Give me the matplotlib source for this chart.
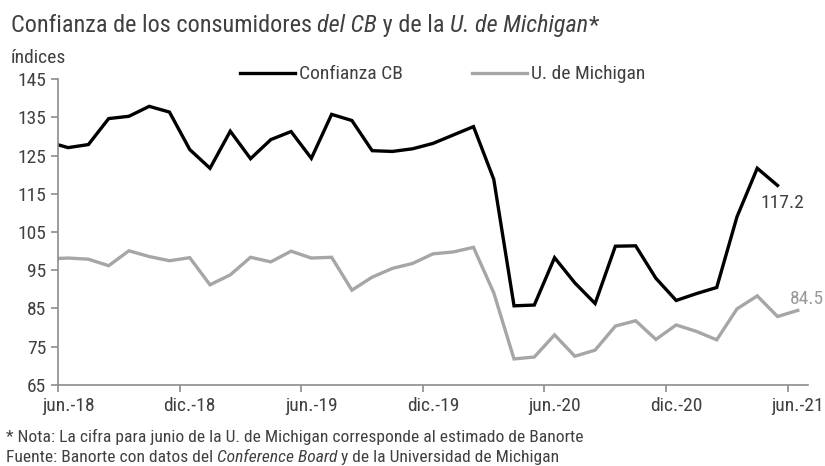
import numpy as np
import matplotlib
matplotlib.use('Agg')
import matplotlib.pyplot as plt
from matplotlib import font_manager as fm

# look for a narrow font, like the one of the original
names = {}
for f in fm.fontManager.ttflist:
    names.setdefault(f.name, set()).add(f.stretch)
pick = None
for n in ['Liberation Sans Narrow', 'Arial Narrow', 'Roboto Condensed', 'Noto Sans Condensed',
          'Open Sans Condensed', 'DejaVu Sans Condensed']:
    if n in names:
        pick = (n, 'normal')
        break
if pick is None:
    for n in ['Noto Sans', 'DejaVu Sans', 'Open Sans', 'Roboto']:
        st = [s for s in names.get(n, []) if s in ('condensed', 'semi-condensed', 'extra-condensed')]
        if st:
            pick = (n, st[0])
            break
if pick is None:
    pick = ('Liberation Sans', 'normal')
plt.rcParams['font.family'] = [pick[0], 'DejaVu Sans']
plt.rcParams['font.stretch'] = pick[1]

# monthly data, may-18 .. jun-21 (CB ends in may-21)
cb = [128.6, 127.1, 127.9, 134.7, 135.3, 137.9, 136.4, 126.6,
      121.7, 131.4, 124.2, 129.2, 131.3, 124.3, 135.8, 134.2, 126.3, 126.1, 126.8, 128.2,
      130.4, 132.6, 118.8, 85.7, 85.9, 98.3, 91.7, 86.3, 101.3, 101.4, 92.9, 87.1,
      88.9, 90.5, 109.0, 121.7, 117.2]
mich = [98.0, 98.2, 97.9, 96.2, 100.1, 98.6, 97.5, 98.3,
        91.2, 93.8, 98.4, 97.2, 100.0, 98.2, 98.4, 89.8, 93.2, 95.5, 96.8, 99.3,
        99.8, 101.0, 89.1, 71.8, 72.3, 78.1, 72.5, 74.1, 80.4, 81.8, 76.9, 80.7,
        79.0, 76.8, 84.9, 88.3, 82.9, 84.5]
tick_labels = ['jun.-18', 'dic.-18', 'jun.-19', 'dic.-19', 'jun.-20', 'dic.-20', 'jun.-21']

txt = '#404040'
grey = '#a6a6a6'
axc = '#8c8c8c'

fig = plt.figure(figsize=(8.25, 4.66), dpi=100)
ax = fig.add_axes([0.0703, 0.174, 0.909, 0.656])

# each month sits in the middle of its slot
x_cb = np.arange(len(cb)) - 1 + 0.5
x_mi = np.arange(len(mich)) - 1 + 0.5
ax.plot(x_cb, cb, color='black', lw=2.4, label='Confianza CB', solid_joinstyle='miter')
ax.plot(x_mi, mich, color=grey, lw=2.4, label='U. de Michigan', solid_joinstyle='miter')

ax.set_xlim(0, 37)
ax.set_ylim(65, 145)
ax.set_yticks(np.arange(65, 146, 10))
# tick marks on the slot borders, labels on the month
ax.set_xticks(np.arange(0, 37, 6))
ax.set_xticklabels([])
ax.set_xticks(np.arange(0, 37, 6) + 0.5, minor=True)
ax.set_xticklabels(tick_labels, minor=True)
for s in ['top', 'right']:
    ax.spines[s].set_visible(False)
for s in ['left', 'bottom']:
    ax.spines[s].set_color(axc)
    ax.spines[s].set_linewidth(1.2)
ax.tick_params(colors=axc, labelcolor=txt, labelsize=14, length=5, width=1.2)
ax.tick_params(axis='x', which='minor', length=0, pad=9, labelsize=14, labelcolor=txt)

ax.annotate('117.2', (x_cb[-1], cb[-1]), xytext=(-12, -12.5), textcoords='offset points',
            fontsize=14, color=txt, ha='left', va='center')
ax.annotate('84.5', (x_mi[-1], mich[-1]), xytext=(-6, 8), textcoords='offset points',
            fontsize=14, color='#999999', ha='left', va='center', annotation_clip=False)

ax.legend(loc='center', bbox_to_anchor=(0.513, 1.016), ncol=2, frameon=False,
          fontsize=14, handlelength=2.8, handletextpad=0.2, columnspacing=3.6,
          labelcolor=txt, borderpad=0, borderaxespad=0)

# text made of plain / italic pieces
def rich(x, y, parts, size):
    fig.canvas.draw()
    r = fig.canvas.get_renderer()
    for s, st in parts:
        t = fig.text(x, y, s, fontsize=size, color=txt, style=st, va='baseline')
        bb = t.get_window_extent(renderer=r)
        x = x + bb.width / fig.bbox.width

rich(0.013, 1 - 32 / 466, [('Confianza de los consumidores ', 'normal'), ('del CB', 'italic'),
                           (' y de la ', 'normal'), ('U. de Michigan', 'italic'), ('*', 'normal')], 17.5)
fig.text(0.013, 1 - 63 / 466, 'índices', fontsize=14, color=txt, va='baseline')
fig.text(0.007, 1 - 442 / 466, '* Nota: La cifra para junio de la U. de Michigan corresponde al estimado de Banorte',
         fontsize=12.6, color=txt, va='baseline')
rich(0.007, 1 - 462 / 466, [('Fuente: Banorte con datos del ', 'normal'), ('Conference Board', 'italic'),
                            (' y de la Universidad de Michigan', 'normal')], 12.6)

fig.savefig('out.png', dpi=100)
